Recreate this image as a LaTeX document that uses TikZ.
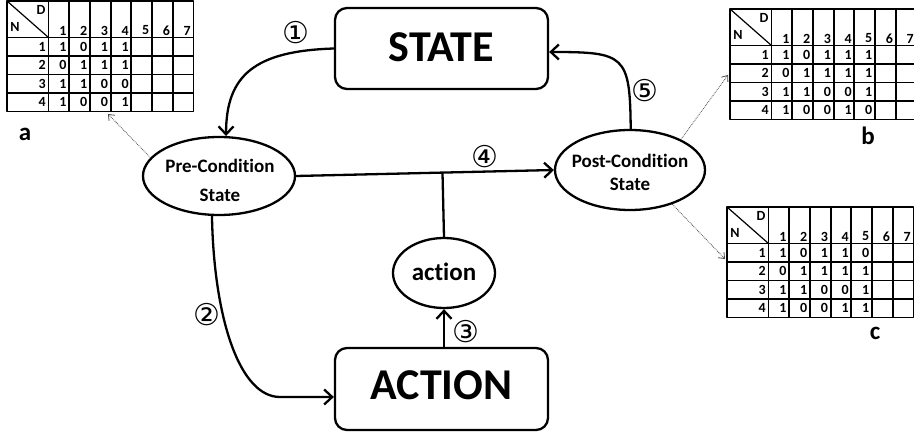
\documentclass[tikz,border=0pt]{standalone}
\usepackage{fontspec}
\setmainfont{Carlito}[Ligatures=CommonOff]
\newfontfamily\circfont{DejaVu Sans}
\usetikzlibrary{arrows.meta,shapes.geometric,calc}

\newcommand\mytable[4]{% name, x, y, rows
  \begin{scope}[shift={(#2,#3)}]
    \draw[gridline] (0,0) rectangle (186.4,110.5);
    \foreach \yy in {36.5,55,73.5,92} \draw[gridline] (0,\yy) -- (186.4,\yy);
    \foreach \k in {0,...,6} \draw[gridline] ({41.5+\k*20.7},0) -- ({41.5+\k*20.7},110.5);
    \draw[gridline,line width=1.2pt] (0,0) -- (41.5,36.5);
    \node[tcell,anchor=center] (#1-D) at (34,9) {D};
    \node[tcell,anchor=center] (#1-N) at (8,26) {N};
    \foreach \c in {1,...,7}
      \node[tcell,anchor=east] (#1-h\c) at ({41.5+\c*20.7-1.5},29.5) {\c};
    \foreach \r/\vals in {#4} {
      \node[tcell,anchor=east] (#1-r\r) at (40,{36.5+(\r-0.5)*18.5}) {\r};
      \foreach \v [count=\c] in \vals
        \node[tcell,anchor=east] (#1-\r-\c) at ({41.5+\c*20.7-1.5},{36.5+(\r-0.5)*18.5}) {\v};
    }
  \end{scope}}

\begin{document}
\begin{tikzpicture}[x=1pt,y=-1pt,line join=round,
  gridline/.style={line width=1.8pt,black},
  tcell/.style={font=\fontsize{14}{14}\selectfont\bfseries,inner sep=1pt},
  bigbox/.style={draw,line width=2.3pt,rounded corners=12pt,minimum width=213pt,minimum height=81pt,inner sep=0pt},
  bigtext/.style={font=\fontsize{44}{44}\selectfont\bfseries,inner sep=0pt},
  oval/.style={draw,ellipse,line width=2.3pt,inner sep=0pt},
  ovaltext/.style={font=\fontsize{19}{23}\selectfont\bfseries,align=center,inner sep=0pt},
  conn/.style={line width=2.3pt,-{Straight Barb[length=8pt,width=15pt,line width=2.3pt]}},
  plain/.style={line width=2.3pt},
  dotarrow/.style={densely dotted,line width=0.8pt,black!70,-{Straight Barb[length=5pt,width=8pt,line width=0.8pt]}},
  num/.style={font=\circfont\fontsize{30}{30}\selectfont,inner sep=0pt},
  letter/.style={font=\fontsize{25}{25}\selectfont\bfseries,inner sep=0pt}]
\useasboundingbox (0,0) rectangle (914,436);

% tables
\mytable{ta}{7}{1}{1/{1,0,1,1},2/{0,1,1,1},3/{1,1,0,0},4/{1,0,0,1}}
\mytable{tb}{730}{9}{1/{1,0,1,1,1},2/{0,1,1,1,1},3/{1,1,0,0,1},4/{1,0,0,1,0}}
\mytable{tc}{727}{207}{1/{1,0,1,1,0},2/{0,1,1,1,1},3/{1,1,0,0,1},4/{1,0,0,1,1}}

\node[letter] (la) at (25,134) {a};
\node[letter] (lb) at (868,136) {b};
\node[letter] (lc) at (875,333) {c};

% main nodes
\node[bigbox] (state) at (441.5,48.5) {};
\node[bigtext] (statetext) at (441.5,47.5) {STATE};
\node[bigbox,minimum height=82pt] (act) at (441.5,389) {};
\node[bigtext] (acttext) at (441.5,385) {ACTION};

\node[oval,minimum width=152pt,minimum height=78pt] (pre) at (219,176) {};
\node[ovaltext,font=\fontsize{19}{29}\selectfont\bfseries] (pretext) at (220,180) {Pre-Condition\\State};
\node[oval,minimum width=150pt,minimum height=80pt] (post) at (630,170) {};
\node[ovaltext] (posttext) at (630,172) {Post-Condition\\State};
\node[oval,minimum width=102pt,minimum height=70pt] (small) at (444,273) {};
\node[font=\fontsize{25}{25}\selectfont\bfseries,inner sep=0pt] (smalltext) at (444,272) {action};

% connectors
\draw[conn] (state.west) .. controls (255,51) and (226,75) .. (pre.80);
\draw[conn] (pre.260) .. controls (214,320) and (240,397) .. (280,397) -- ($(act.west)+(0,8)$);
\draw[conn] (small.south |- act.north) -- (small.south);
\draw[conn] (pre.east) -- (post.west);
\coordinate (jn) at ($(pre.east)!(small.north)!(post.west)$);
\draw[plain] (small.north) -- (jn);
\draw[conn] (post.89) .. controls (630,55) and (625,52) .. ($(state.east)+(0,3.5)$);

% dotted pointers
\coordinate (atip) at (108,114);
\coordinate (btip) at (728,75);
\coordinate (ctip) at (725,259);
\draw[dotarrow] (pre.165) -- (atip);
\draw[dotarrow] (post.31) -- (btip);
\draw[dotarrow] (post.-39) -- (ctip);

% numbers
\node[num] (n1) at (296,33) {①};
\node[num] (n2) at (207,315) {②};
\node[num] (n3) at (466,332) {③};
\node[num] (n4) at (485,157) {④};
\node[num] (n5) at (645,91) {⑤};
\end{tikzpicture}
\end{document}
